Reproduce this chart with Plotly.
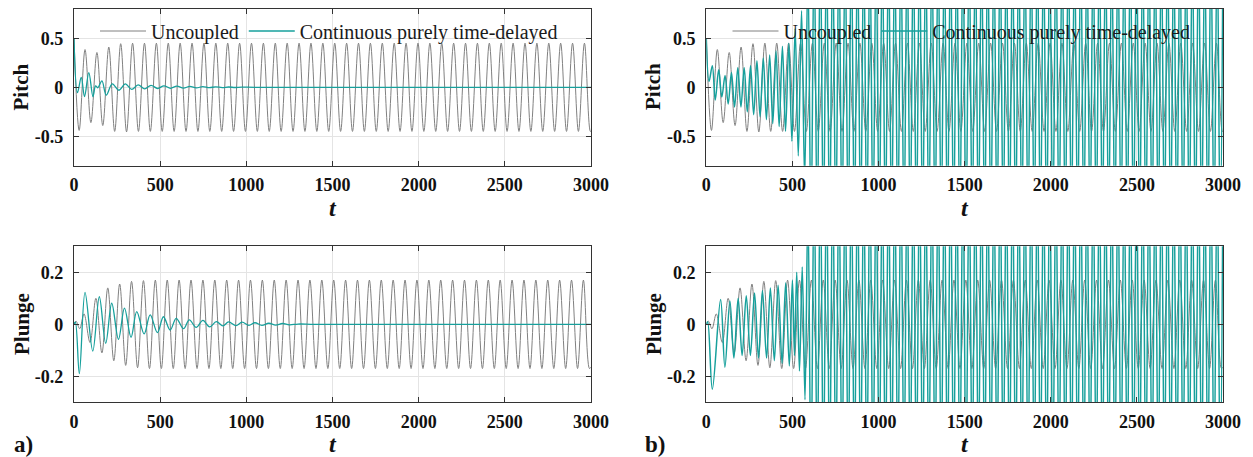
import plotly.graph_objects as go

# ---------------- data (extrema: time, value) ----------------
# Uncoupled system (same curves in panels a and b)
unc_pitch_t = [0, 30, 64, 98, 133, 167, 202, 236, 271, 305,
               340, 374, 409, 443, 478, 512, 547, 581, 616, 650,
               685, 719, 754, 788, 823, 857, 892, 926, 961, 995,
               1030, 1064, 1099, 1133, 1168, 1202, 1237, 1271, 1306, 1340,
               1375, 1409, 1444, 1478, 1513, 1547, 1582, 1616, 1651, 1685,
               1720, 1754, 1789, 1823, 1858, 1892, 1927, 1961, 1996, 2030,
               2065, 2099, 2134, 2168, 2203, 2237, 2272, 2306, 2341, 2375,
               2410, 2444, 2479, 2513, 2548, 2582, 2617, 2651, 2686, 2720,
               2755, 2789, 2824, 2858, 2893, 2927, 2962, 2996, 3000]
unc_pitch_v = [0.5, -0.44, 0.385, -0.36, 0.355, -0.39, 0.41, -0.45, 0.445, -0.455,
               0.45, -0.45, 0.45, -0.45, 0.45, -0.45, 0.45, -0.45, 0.45, -0.45,
               0.45, -0.45, 0.45, -0.45, 0.45, -0.45, 0.45, -0.45, 0.45, -0.45,
               0.45, -0.45, 0.45, -0.45, 0.45, -0.45, 0.45, -0.45, 0.45, -0.45,
               0.45, -0.45, 0.45, -0.45, 0.45, -0.45, 0.45, -0.45, 0.45, -0.45,
               0.45, -0.45, 0.45, -0.45, 0.45, -0.45, 0.45, -0.45, 0.45, -0.45,
               0.45, -0.45, 0.45, -0.45, 0.45, -0.45, 0.45, -0.45, 0.45, -0.45,
               0.45, -0.45, 0.45, -0.45, 0.45, -0.45, 0.45, -0.45, 0.45, -0.45,
               0.45, -0.45, 0.45, -0.45, 0.45, -0.45, 0.45, -0.45, -0.448]

unc_plunge_t = [0, 12, 33, 58, 93, 127, 162, 196, 231, 265,
                300, 334, 369, 403, 438, 472, 507, 541, 576, 610,
                645, 679, 714, 748, 783, 817, 852, 886, 921, 955,
                990, 1024, 1059, 1093, 1128, 1162, 1197, 1231, 1266, 1300,
                1335, 1369, 1404, 1438, 1473, 1507, 1542, 1576, 1611, 1645,
                1680, 1714, 1749, 1783, 1818, 1852, 1887, 1921, 1956, 1990,
                2025, 2059, 2094, 2128, 2163, 2197, 2232, 2266, 2301, 2335,
                2370, 2404, 2439, 2473, 2508, 2542, 2577, 2611, 2646, 2680,
                2715, 2749, 2784, 2818, 2853, 2887, 2922, 2956, 2991, 3000]
unc_plunge_v = [0.0, 0.012, -0.017, 0.04, -0.07, 0.10, -0.11, 0.14, -0.14, 0.155,
                -0.158, 0.165, -0.167, 0.168, -0.17, 0.17, -0.17, 0.17, -0.17, 0.17,
                -0.17, 0.17, -0.17, 0.17, -0.17, 0.17, -0.17, 0.17, -0.17, 0.17,
                -0.17, 0.17, -0.17, 0.17, -0.17, 0.17, -0.17, 0.17, -0.17, 0.17,
                -0.17, 0.17, -0.17, 0.17, -0.17, 0.17, -0.17, 0.17, -0.17, 0.17,
                -0.17, 0.17, -0.17, 0.17, -0.17, 0.17, -0.17, 0.17, -0.17, 0.17,
                -0.17, 0.17, -0.17, 0.17, -0.17, 0.17, -0.17, 0.17, -0.17, 0.17,
                -0.17, 0.17, -0.17, 0.17, -0.17, 0.17, -0.17, 0.17, -0.17, 0.17,
                -0.17, 0.17, -0.17, 0.17, -0.17, 0.17, -0.17, 0.17, -0.17, -0.165]

# Continuous purely time-delayed coupling, panel a (decaying)
tda_pitch_t = [0, 20, 42, 61, 86, 110, 125, 138, 162, 187,
               222, 260, 298, 335, 372, 410, 447, 485, 522,
               560, 597, 635, 672, 710, 747, 785, 822, 860, 897,
               935, 972, 1050, 3000]
tda_pitch_v = [0.5, -0.055, 0.10, -0.095, 0.15, -0.095, 0.015, -0.005, 0.065, -0.08,
               0.035, -0.03, 0.035, -0.022, 0.025, -0.016, 0.02, -0.012, 0.015,
               -0.01, 0.012, -0.008, 0.009, -0.006, 0.007, -0.004, 0.005, -0.003, 0.003,
               -0.002, 0.001, 0.0, 0.0]

tda_plunge_t = [0, 8, 31, 64, 109, 147, 184, 219, 258, 293,
                331, 364, 407, 442, 484, 519, 558, 593, 636, 669,
                709, 748, 787, 826, 864, 897, 940, 975, 1015, 1050,
                1090, 1130, 1170, 1210, 1250, 1300, 1400, 3000]
tda_plunge_v = [0.0, 0.008, -0.19, 0.123, -0.103, 0.106, -0.073, 0.081, -0.058, 0.062,
                -0.05, 0.049, -0.037, 0.036, -0.032, 0.029, -0.022, 0.023, -0.017, 0.017,
                -0.012, 0.015, -0.01, 0.01, -0.006, 0.009, -0.005, 0.008, -0.004, 0.006,
                -0.004, 0.004, -0.003, 0.003, -0.002, 0.001, 0.0, 0.0]

# Continuous purely time-delayed coupling, panel b (growing, then far beyond the axis range)
tdb_pitch_early_t = [0, 16, 35, 52, 72, 90, 109, 127, 146, 164,
                     183, 201, 220, 238, 257, 275, 294, 312, 331, 349,
                     368, 386, 405, 423, 442, 460, 479, 497, 516, 534,
                     553, 571, 590]
tdb_pitch_early_v = [0.5, 0.06, 0.22, -0.13, 0.18, -0.10, 0.12, -0.17, 0.15, -0.2,
                     0.2, -0.2, 0.2, -0.25, 0.22, -0.28, 0.27, -0.3, 0.3, -0.33,
                     0.33, -0.37, 0.37, -0.4, 0.42, -0.45, 0.45, -0.55, 0.6, -0.7,
                     0.78, -0.95, 1.2]

tdb_plunge_early_t = [0, 8, 35, 83, 108, 137, 160, 185, 208, 232,
                      256, 280, 303, 326, 350, 372, 395, 417, 440, 461,
                      482, 500, 512, 525, 541, 557, 573, 590]
tdb_plunge_early_v = [0.0, 0.01, -0.25, 0.095, -0.165, 0.09, -0.13, 0.10, -0.12, 0.11,
                      -0.12, 0.12, -0.13, 0.13, -0.13, 0.14, -0.14, 0.15, -0.15, 0.16,
                      -0.16, 0.17, -0.12, 0.2, -0.18, 0.22, -0.29, 0.45]

tdb_dense_t = [608, 626, 644, 662, 680, 698, 716, 734, 752, 770,
               788, 806, 824, 842, 860, 878, 896, 914, 932, 950,
               968, 986, 1004, 1022, 1040, 1058, 1076, 1094, 1112, 1130,
               1148, 1166, 1184, 1202, 1220, 1238, 1256, 1274, 1292, 1310,
               1328, 1346, 1364, 1382, 1400, 1418, 1436, 1454, 1472, 1490,
               1508, 1526, 1544, 1562, 1580, 1598, 1616, 1634, 1652, 1670,
               1688, 1706, 1724, 1742, 1760, 1778, 1796, 1814, 1832, 1850,
               1868, 1886, 1904, 1922, 1940, 1958, 1976, 1994, 2012, 2030,
               2048, 2066, 2084, 2102, 2120, 2138, 2156, 2174, 2192, 2210,
               2228, 2246, 2264, 2282, 2300, 2318, 2336, 2354, 2372, 2390,
               2408, 2426, 2444, 2462, 2480, 2498, 2516, 2534, 2552, 2570,
               2588, 2606, 2624, 2642, 2660, 2678, 2696, 2714, 2732, 2750,
               2768, 2786, 2804, 2822, 2840, 2858, 2876, 2894, 2912, 2930,
               2948, 2966, 2984, 3000]
tdb_pitch_dense_v = [-1.5, 1.5, -1.5, 1.5, -1.5, 1.5, -1.5, 1.5, -1.5, 1.5,
                     -1.5, 1.5, -1.5, 1.5, -1.5, 1.5, -1.5, 1.5, -1.5, 1.5,
                     -1.5, 1.5, -1.5, 1.5, -1.5, 1.5, -1.5, 1.5, -1.5, 1.5,
                     -1.5, 1.5, -1.5, 1.5, -1.5, 1.5, -1.5, 1.5, -1.5, 1.5,
                     -1.5, 1.5, -1.5, 1.5, -1.5, 1.5, -1.5, 1.5, -1.5, 1.5,
                     -1.5, 1.5, -1.5, 1.5, -1.5, 1.5, -1.5, 1.5, -1.5, 1.5,
                     -1.5, 1.5, -1.5, 1.5, -1.5, 1.5, -1.5, 1.5, -1.5, 1.5,
                     -1.5, 1.5, -1.5, 1.5, -1.5, 1.5, -1.5, 1.5, -1.5, 1.5,
                     -1.5, 1.5, -1.5, 1.5, -1.5, 1.5, -1.5, 1.5, -1.5, 1.5,
                     -1.5, 1.5, -1.5, 1.5, -1.5, 1.5, -1.5, 1.5, -1.5, 1.5,
                     -1.5, 1.5, -1.5, 1.5, -1.5, 1.5, -1.5, 1.5, -1.5, 1.5,
                     -1.5, 1.5, -1.5, 1.5, -1.5, 1.5, -1.5, 1.5, -1.5, 1.5,
                     -1.5, 1.5, -1.5, 1.5, -1.5, 1.5, -1.5, 1.5, -1.5, 1.5,
                     -1.5, 1.5, -1.5, 1.5]
tdb_plunge_dense_v = [-0.6, 0.6, -0.6, 0.6, -0.6, 0.6, -0.6, 0.6, -0.6, 0.6,
                      -0.6, 0.6, -0.6, 0.6, -0.6, 0.6, -0.6, 0.6, -0.6, 0.6,
                      -0.6, 0.6, -0.6, 0.6, -0.6, 0.6, -0.6, 0.6, -0.6, 0.6,
                      -0.6, 0.6, -0.6, 0.6, -0.6, 0.6, -0.6, 0.6, -0.6, 0.6,
                      -0.6, 0.6, -0.6, 0.6, -0.6, 0.6, -0.6, 0.6, -0.6, 0.6,
                      -0.6, 0.6, -0.6, 0.6, -0.6, 0.6, -0.6, 0.6, -0.6, 0.6,
                      -0.6, 0.6, -0.6, 0.6, -0.6, 0.6, -0.6, 0.6, -0.6, 0.6,
                      -0.6, 0.6, -0.6, 0.6, -0.6, 0.6, -0.6, 0.6, -0.6, 0.6,
                      -0.6, 0.6, -0.6, 0.6, -0.6, 0.6, -0.6, 0.6, -0.6, 0.6,
                      -0.6, 0.6, -0.6, 0.6, -0.6, 0.6, -0.6, 0.6, -0.6, 0.6,
                      -0.6, 0.6, -0.6, 0.6, -0.6, 0.6, -0.6, 0.6, -0.6, 0.6,
                      -0.6, 0.6, -0.6, 0.6, -0.6, 0.6, -0.6, 0.6, -0.6, 0.6,
                      -0.6, 0.6, -0.6, 0.6, -0.6, 0.6, -0.6, 0.6, -0.6, 0.6,
                      -0.6, 0.6, -0.6, 0.6]

x_ticks = [0, 500, 1000, 1500, 2000, 2500, 3000]
pitch_ticks = [-0.5, 0, 0.5]
pitch_ticktext = ["-0.5", "0", "0.5"]
plunge_ticks = [-0.2, 0, 0.2]
plunge_ticktext = ["-0.2", "0", "0.2"]
series_names = ["Uncoupled", "Continuous purely time-delayed"]

tdb_pitch_t = tdb_pitch_early_t + tdb_dense_t
tdb_pitch_v = tdb_pitch_early_v + tdb_pitch_dense_v
tdb_plunge_t = tdb_plunge_early_t + tdb_dense_t
tdb_plunge_v = tdb_plunge_early_v + tdb_plunge_dense_v

for nm, a, b in [("unc_pitch", unc_pitch_t, unc_pitch_v), ("unc_plunge", unc_plunge_t, unc_plunge_v),
                 ("tda_pitch", tda_pitch_t, tda_pitch_v), ("tda_plunge", tda_plunge_t, tda_plunge_v),
                 ("tdb_pitch", tdb_pitch_t, tdb_pitch_v), ("tdb_plunge", tdb_plunge_t, tdb_plunge_v)]:
    if len(a) != len(b):
        print("length mismatch", nm, len(a), len(b))

# ---------------- figure ----------------
W, H = 1253, 457
GRAY = "#808080"
TEAL = "#17a09c"
FRAME = "#333333"
SERIF = "Liberation Serif, Times New Roman, serif"

fig = go.Figure()


def add(t, v, color, width, name, xa, ya, legend, show):
    n = min(len(t), len(v))
    fig.add_trace(go.Scatter(
        x=t[:n], y=v[:n], mode="lines", name=name, xaxis=xa, yaxis=ya,
        line=dict(color=color, width=width, shape="spline", smoothing=1.0),
        legend=legend, showlegend=show, hoverinfo="skip"))


# panel a
add(unc_pitch_t, unc_pitch_v, GRAY, 1.0, series_names[0], "x", "y", "legend", True)
add(tda_pitch_t, tda_pitch_v, TEAL, 1.3, series_names[1], "x", "y", "legend", True)
add(unc_plunge_t, unc_plunge_v, GRAY, 1.0, series_names[0], "x2", "y2", "legend", False)
add(tda_plunge_t, tda_plunge_v, TEAL, 1.3, series_names[1], "x2", "y2", "legend", False)
# panel b
add(unc_pitch_t, unc_pitch_v, GRAY, 1.0, series_names[0], "x3", "y3", "legend2", True)
add(tdb_pitch_t, tdb_pitch_v, TEAL, 1.5, series_names[1], "x3", "y3", "legend2", True)
add(unc_plunge_t, unc_plunge_v, GRAY, 1.0, series_names[0], "x4", "y4", "legend2", False)
add(tdb_plunge_t, tdb_plunge_v, TEAL, 1.5, series_names[1], "x4", "y4", "legend2", False)


def px_x(p):
    return p / W


def px_y(p):
    return 1 - p / H


xa_dom = [px_x(74), px_x(591)]
xb_dom = [px_x(706.3), px_x(1223)]
ytop_dom = [px_y(165.7), px_y(8.9)]
ybot_dom = [px_y(402.3), px_y(246.3)]

tickfont = dict(family=SERIF, size=18, color="#111111", weight="bold")
common = dict(showline=True, mirror="ticks", linecolor=FRAME, linewidth=1.2, ticks="inside",
              ticklen=5, tickcolor=FRAME, tickwidth=1, showgrid=True, gridcolor="#e4e4e4",
              gridwidth=1, zeroline=False, tickfont=tickfont, fixedrange=True, automargin=False)


def xaxis(dom, anchor):
    return dict(domain=dom, anchor=anchor, range=[0, 3000], tickvals=x_ticks,
                ticktext=[str(v) for v in x_ticks], ticklabelstandoff=3, **common)


def yaxis(dom, anchor, rng, tv, tt):
    return dict(domain=dom, anchor=anchor, range=rng, tickvals=tv, ticktext=tt,
                ticklabelstandoff=6, **common)


fig.update_layout(
    width=W, height=H, margin=dict(l=0, r=0, t=0, b=0, autoexpand=False),
    paper_bgcolor="white", plot_bgcolor="white",
    xaxis=xaxis(xa_dom, "y"), yaxis=yaxis(ytop_dom, "x", [-0.8, 0.8], pitch_ticks, pitch_ticktext),
    xaxis2=xaxis(xa_dom, "y2"), yaxis2=yaxis(ybot_dom, "x2", [-0.3, 0.3], plunge_ticks, plunge_ticktext),
    xaxis3=xaxis(xb_dom, "y3"), yaxis3=yaxis(ytop_dom, "x3", [-0.8, 0.8], pitch_ticks, pitch_ticktext),
    xaxis4=xaxis(xb_dom, "y4"), yaxis4=yaxis(ybot_dom, "x4", [-0.3, 0.3], plunge_ticks, plunge_ticktext),
    legend=dict(orientation="h", x=px_x(95), y=px_y(31), xanchor="left", yanchor="middle",
                bgcolor="rgba(0,0,0,0)", borderwidth=0, itemwidth=46,
                font=dict(family=SERIF, size=20, color="#1a1a1a")),
    legend2=dict(orientation="h", x=px_x(727.5), y=px_y(31), xanchor="left", yanchor="middle",
                 bgcolor="rgba(0,0,0,0)", borderwidth=0, itemwidth=46,
                 font=dict(family=SERIF, size=20, color="#1a1a1a")),
)

ann_font = dict(family=SERIF, size=21, color="#111111", weight="bold")
labels = [
    ("Pitch", 20.5, 87, -90), ("Plunge", 22, 324, -90),
    ("Pitch", 653, 87, -90), ("Plunge", 654, 324, -90),
]
for text, x, y, ang in labels:
    fig.add_annotation(text=text, x=px_x(x), y=px_y(y), xref="paper", yref="paper",
                       showarrow=False, textangle=ang, font=ann_font, xanchor="center", yanchor="middle")
for x, y in [(332.5, 208), (332.5, 444), (964.7, 208), (964.7, 444)]:
    fig.add_annotation(text="<b><i>t</i></b>", x=px_x(x), y=px_y(y), xref="paper", yref="paper",
                       showarrow=False, font=dict(family=SERIF, size=24, color="#111111"),
                       xanchor="center", yanchor="middle")
for text, x, y in [("a)", 23, 444), ("b)", 655, 444)]:
    fig.add_annotation(text=text, x=px_x(x), y=px_y(y), xref="paper", yref="paper",
                       showarrow=False, font=dict(family=SERIF, size=23, color="#111111", weight="bold"),
                       xanchor="center", yanchor="middle")

fig.write_html("out.html")
